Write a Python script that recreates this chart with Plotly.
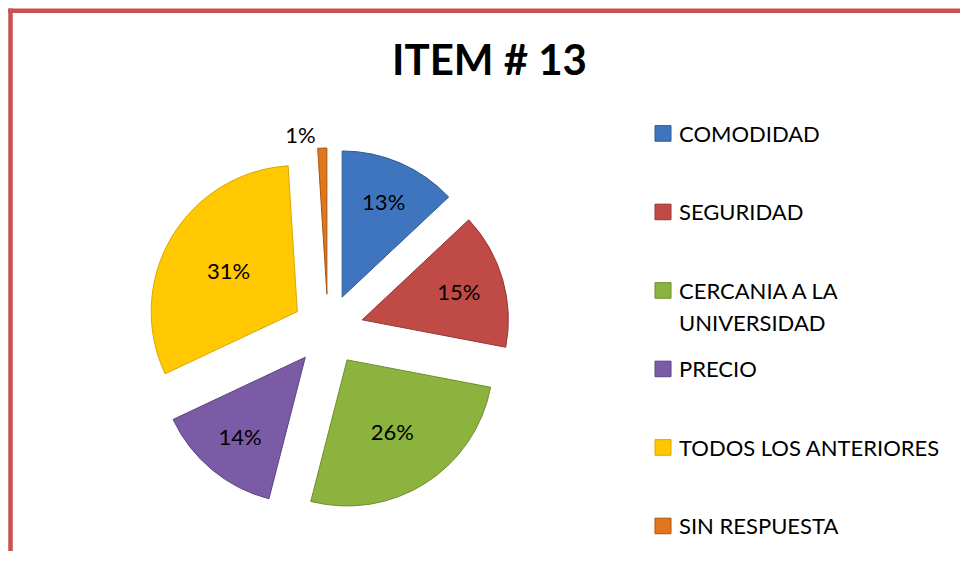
import plotly.graph_objects as go

# ---- data ----
categories = ["COMODIDAD", "SEGURIDAD", "CERCANIA A LA UNIVERSIDAD", "PRECIO",
              "TODOS LOS ANTERIORES", "SIN RESPUESTA"]
legend_lines = [["COMODIDAD"], ["SEGURIDAD"], ["CERCANIA A LA", "UNIVERSIDAD"], ["PRECIO"],
                ["TODOS LOS ANTERIORES"], ["SIN RESPUESTA"]]
values = [13, 15, 26, 14, 31, 1]
colors = ["#3F75BE", "#C04A46", "#8DB33F", "#7B5AA6", "#FFC800", "#E0771A"]
edge_colors = ["#2F5A94", "#943634", "#6E8C2E", "#5C4380", "#D9A800", "#A9530D"]
title_text = "ITEM # 13"

W, H = 960, 582
YS = 0.972  # compensation for observed vertical compression
FONT = "Lato"


def px(x):
    return x / W


def py(y):
    return 1 - (y / YS) / H


fig = go.Figure()
fig.add_trace(go.Pie(
    labels=categories,
    values=values,
    sort=False,
    direction="clockwise",
    rotation=0,
    pull=[0.244] * len(values),
    marker=dict(colors=colors, line=dict(color=edge_colors, width=1)),
    texttemplate="%{percent:.0%}",
    textposition=["inside"] * 5 + ["outside"],
    insidetextorientation="horizontal",
    textfont=dict(family=FONT, size=22, color="#000000"),
    domain=dict(x=[px(141.4), px(514.6)], y=[py(525.2), py(152)]),
    showlegend=False,
    hoverinfo="label+percent",
))

shapes = []
annotations = []

# red frame: top and left edges (kept inside the figure)
border = dict(color="#C85250", width=4.5)
shapes.append(dict(type="line", xref="paper", yref="paper",
                   x0=px(8.3), x1=1, y0=py(11), y1=py(11), line=border))
shapes.append(dict(type="line", xref="paper", yref="paper",
                   x0=px(10.5), x1=px(10.5), y0=0, y1=py(8.8), line=border))

# title
annotations.append(dict(text="<b>" + title_text + "</b>", xref="paper", yref="paper",
                        x=px(490), y=py(61), xanchor="center", yanchor="middle",
                        showarrow=False, font=dict(family=FONT, size=42, color="#000000")))

# manual legend
y0 = 137.0
step = 80.6
line_gap = 33.0
for i, (lines, col, ec) in enumerate(zip(legend_lines, colors, edge_colors)):
    yc = y0 + step * i
    shapes.append(dict(type="rect", xref="paper", yref="paper",
                       x0=px(655), x1=px(671), y0=py(yc + 8), y1=py(yc - 8),
                       fillcolor=col, line=dict(color=ec, width=1)))
    for j, ln in enumerate(lines):
        annotations.append(dict(text=ln, xref="paper", yref="paper",
                                x=px(677), y=py(yc + j * line_gap),
                                xanchor="left", yanchor="middle", showarrow=False,
                                font=dict(family=FONT, size=22, color="#000000")))

fig.update_layout(
    width=W, height=H,
    margin=dict(l=0, r=0, t=0, b=0),
    paper_bgcolor="#FFFFFF",
    plot_bgcolor="#FFFFFF",
    shapes=shapes,
    annotations=annotations,
    showlegend=False,
)

fig.write_html(
    "out.html",
    config={"displayModeBar": False},
    post_script="document.body.style.margin='0';document.body.style.overflow='hidden';"
                "document.documentElement.style.overflow='hidden';",
)
